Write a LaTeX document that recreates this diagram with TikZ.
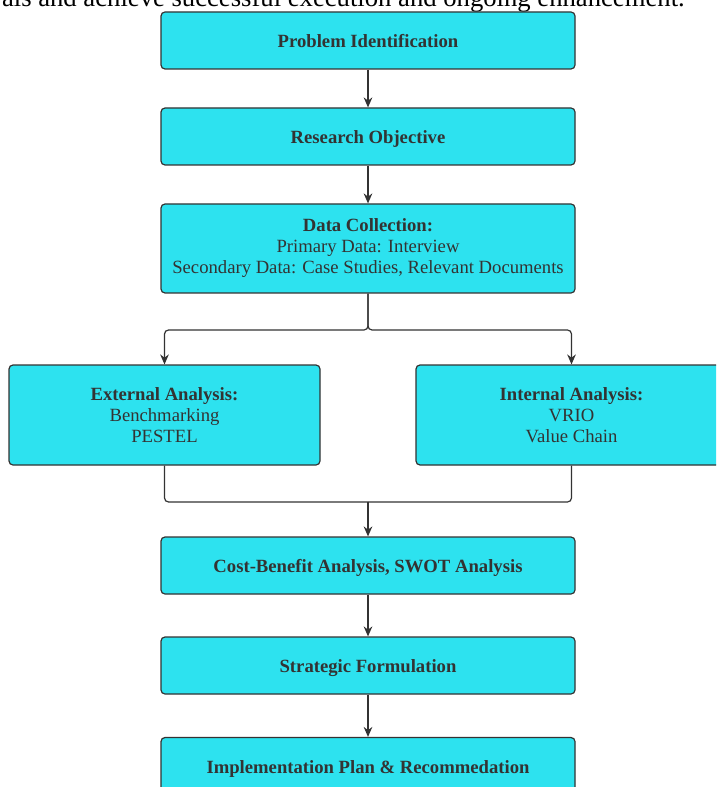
\documentclass[tikz,border=0pt]{standalone}
\usepackage{fontspec}
\setmainfont{Liberation Serif}
\usetikzlibrary{arrows.meta}
\definecolor{boxcyan}{HTML}{2DE2EF}
\definecolor{inkgray}{HTML}{333333}
\tikzset{
  stagebox/.style={draw=inkgray, line width=0.9pt, fill=boxcyan, rounded corners=3pt,
    text=inkgray, align=center, inner sep=0pt, minimum width=310.5pt, minimum height=42.75pt,
    font=\fontsize{14}{15.75}\selectfont},
  onebox/.style={stagebox, text height=14pt, text depth=3pt},
  sidebox/.style={stagebox, minimum width=233.25pt, minimum height=75pt},
  flow/.style={draw=inkgray, line width=0.9pt, rounded corners=3pt},
  flowarrow/.style={flow, -{Stealth[length=7.5pt,width=6.5pt]}},
}
\begin{document}
\begin{tikzpicture}[x=0.75pt,y=-0.75pt]
\useasboundingbox (0,0) rectangle (716,787);
\clip (0,0) rectangle (716,787);
% caption line cut off above the chart
\node[anchor=base east, inner sep=0pt, font=\fontsize{20}{23}\selectfont] (caption) at (685,7) {als and achieve successful execution and ongoing enhancement.};
% main column
\node[onebox] (problem) at (368,40.5) {\textbf{Problem Identification}};
\node[onebox] (objective) at (368,136.5) {\textbf{Research Objective}};
\node[stagebox, minimum height=66.75pt] (collection) at (368,248.5) {\textbf{Data Collection:}\\Primary Data: Interview\\Secondary Data: Case Studies, Relevant Documents};
\node[sidebox] (external) at (164.5,415) {\textbf{External Analysis:}\\Benchmarking\\PESTEL};
\node[sidebox] (internal) at (571.5,415) {\textbf{Internal Analysis:}\\VRIO\\Value Chain};
\node[onebox] (swot) at (368,565.5) {\textbf{Cost-Benefit Analysis, SWOT Analysis}};
\node[onebox] (strategy) at (368,665.5) {\textbf{Strategic Formulation}};
\node[onebox] (implement) at (368,766) {\textbf{Implementation Plan \& Recommedation}};
\coordinate (split) at (368,330);
\coordinate (merge) at (368,502);
% connectors
\draw[flowarrow] (problem) -- (objective);
\draw[flowarrow] (objective) -- (collection);
\draw[flowarrow] (collection.south) -- (split) -| (external.north);
\draw[flowarrow] (collection.south) -- (split) -| (internal.north);
\draw[flow] (external.south) |- (merge);
\draw[flow] (internal.south) |- (merge);
\draw[flowarrow] (merge) -- (swot);
\draw[flowarrow] (swot) -- (strategy);
\draw[flowarrow] (strategy) -- (implement);
\end{tikzpicture}
\end{document}
